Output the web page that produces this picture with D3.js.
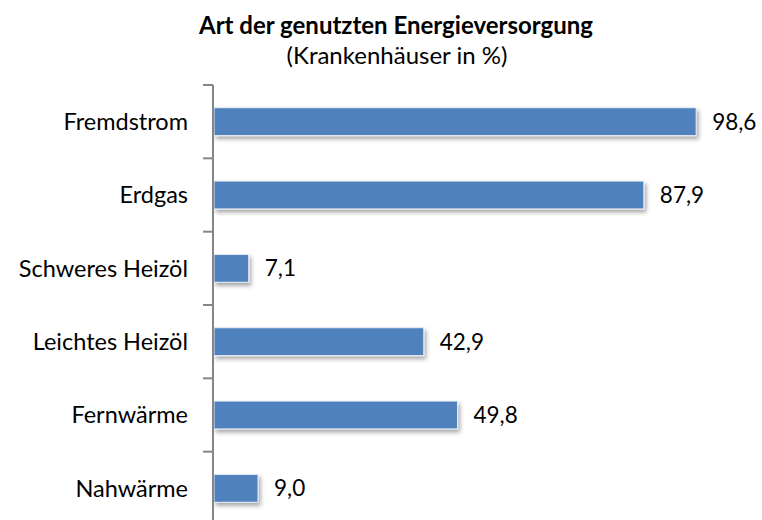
<!DOCTYPE html>
<html><head><meta charset="utf-8">
<script src="https://cdn.jsdelivr.net/npm/d3@7"></script>
<style>
body{margin:0;background:#fff;}
text{font-family:Lato,"Open Sans",sans-serif;fill:#000;}
</style></head>
<body>
<svg id="chart" width="762" height="520"></svg>
<script>
const categories = ["Fremdstrom","Erdgas","Schweres Heizöl","Leichtes Heizöl","Fernwärme","Nahwärme"];
const values = [98.6, 87.9, 7.1, 42.9, 49.8, 9.0];
const titleText = "Art der genutzten Energieversorgung";
const subtitleText = "(Krankenhäuser in %)";

(function(){
const svg = d3.select("#chart");
const mLeft = 213, mTop = 85, mBottom = 525, mRight = 702;

const defs = svg.append("defs");
const f = defs.append("filter").attr("id","sh").attr("x","-10%").attr("y","-30%").attr("width","130%").attr("height","190%");
f.append("feDropShadow").attr("dx",2).attr("dy",3).attr("stdDeviation",2).attr("flood-color","#000").attr("flood-opacity",0.35);

const x = d3.scaleLinear().domain([0,100]).range([mLeft, mRight]);
const y = d3.scaleBand().domain(categories).range([mTop, mBottom]).paddingInner(0.62).paddingOuter(0.31);

svg.append("g").selectAll("rect").data(categories).join("rect")
  .attr("x", x(0)+1)
  .attr("y", d=>y(d))
  .attr("width", (d,i)=>x(values[i])-x(0))
  .attr("height", y.bandwidth())
  .attr("fill","#4F81BD")
  .attr("stroke","#E8EEF7").attr("stroke-width",1)
  .attr("filter","url(#sh)");

const step = y.step();
const boundaries = d3.range(categories.length+1).map(i=>mTop + i*step);
const ax = svg.append("g");
ax.append("line").attr("x1",mLeft).attr("x2",mLeft).attr("y1",mTop).attr("y2",mBottom)
  .attr("stroke","#868686").attr("stroke-width",2);
ax.selectAll("line.t").data(boundaries).join("line").attr("class","t")
  .attr("x1",mLeft-10).attr("x2",mLeft).attr("y1",d=>d).attr("y2",d=>d)
  .attr("stroke","#868686").attr("stroke-width",2);

svg.append("g").selectAll("text").data(categories).join("text")
  .attr("x", mLeft-25)
  .attr("y", d=>y(d)+y.bandwidth()/2)
  .attr("dy","0.35em")
  .attr("text-anchor","end")
  .attr("font-size",23.5)
  .text(d=>d);

svg.append("g").selectAll("text").data(categories).join("text")
  .attr("x", (d,i)=>x(values[i])+17)
  .attr("y", d=>y(d)+y.bandwidth()/2)
  .attr("dy","0.35em")
  .attr("font-size",22.5)
  .text((d,i)=>d3.format(".1f")(values[i]).replace(".",","));

svg.append("text").attr("x",396).attr("y",34).attr("text-anchor","middle")
  .attr("font-size",24).attr("font-weight","bold").text(titleText);
svg.append("text").attr("x",397).attr("y",64).attr("text-anchor","middle")
  .attr("font-size",24).text(subtitleText);
})();
</script>
</body></html>
